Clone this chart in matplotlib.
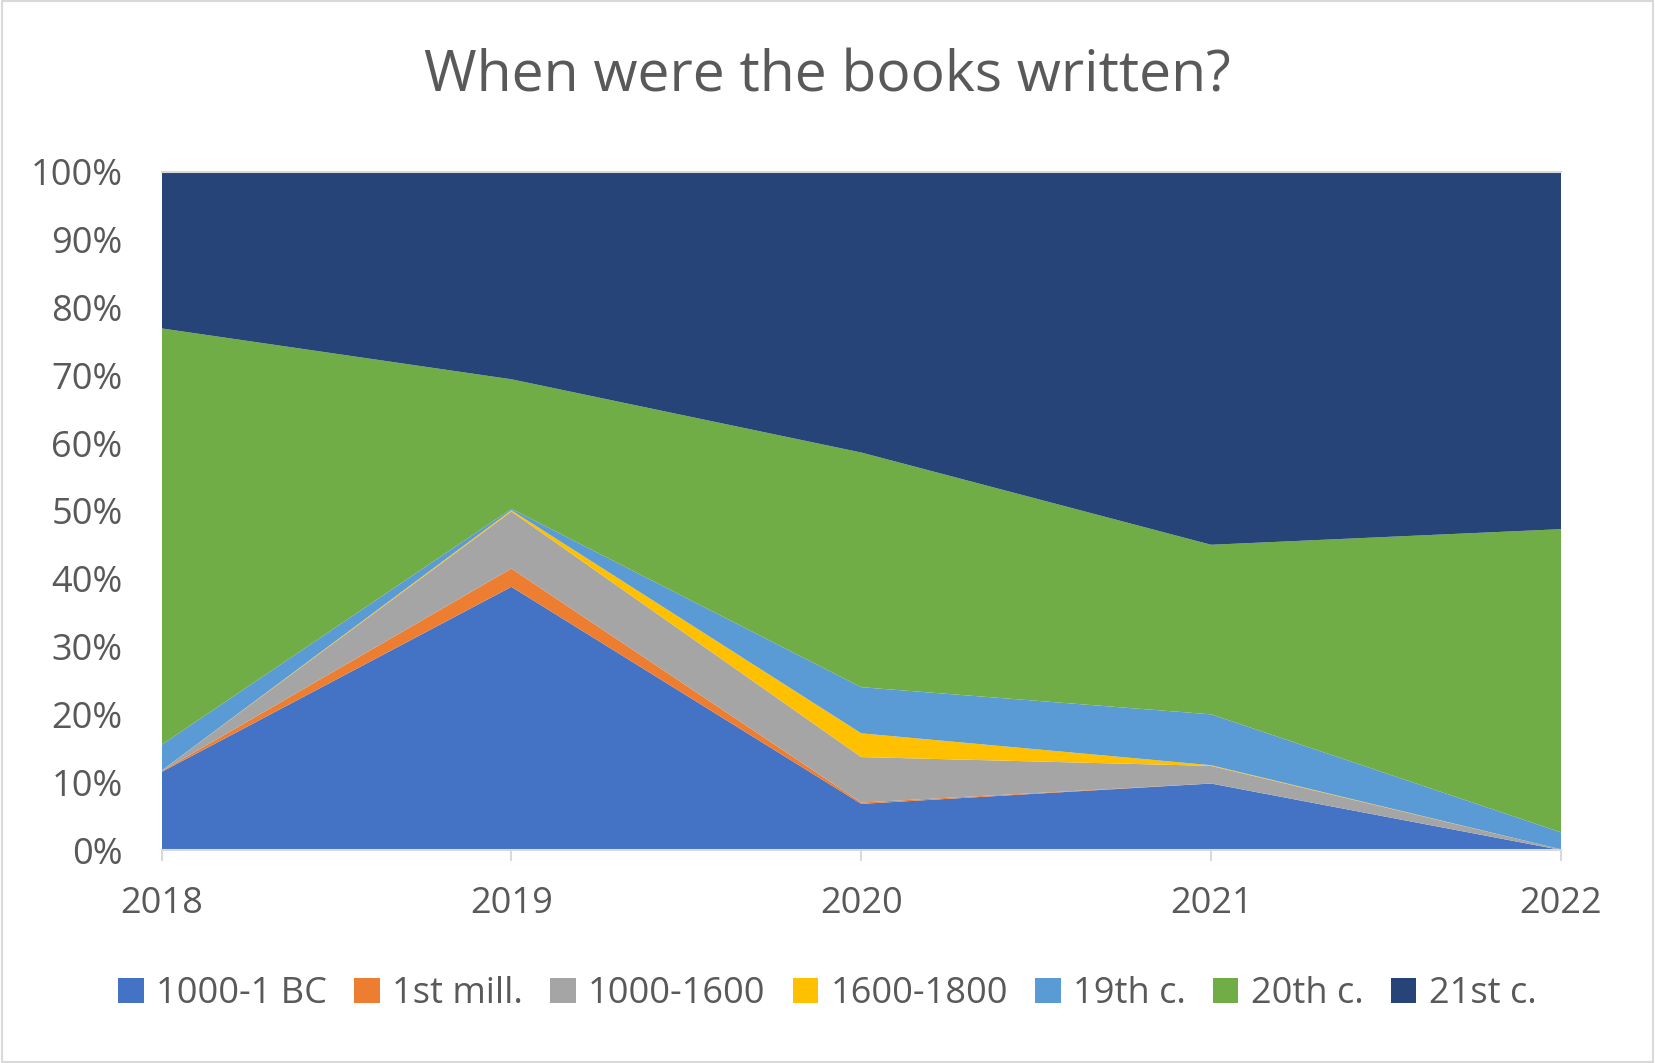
import matplotlib.pyplot as plt
from matplotlib.patches import Rectangle
from matplotlib.ticker import PercentFormatter

years = [2018, 2019, 2020, 2021, 2022]
labels = ["1000-1 BC", "1st mill.", "1000-1600", "1600-1800", "19th c.", "20th c.", "21st c."]

bc = [11.5, 38.8, 6.8, 9.8, 0.0]
first_mill = [0.1, 2.7, 0.2, 0.0, 0.0]
m1000_1600 = [0.1, 8.4, 6.7, 2.6, 0.1]
m1600_1800 = [0.0, 0.2, 3.5, 0.1, 0.0]
c19 = [3.8, 0.2, 6.8, 7.5, 2.5]
c20 = [61.4, 19.1, 34.6, 25.0, 44.7]
c21 = [23.1, 30.6, 41.4, 55.0, 52.7]

colors = ["#4472C4", "#ED7D31", "#A5A5A5", "#FFC000", "#5B9BD5", "#70AD47", "#264478"]
text_col = "#595959"

plt.rcParams['font.family'] = ['Open Sans', 'DejaVu Sans']

fig = plt.figure(figsize=(16.55, 10.63), dpi=100)
ax = fig.add_axes([161.5 / 1655, 1 - 850 / 1063, (1561 - 161.5) / 1655, (850 - 171.7) / 1063])

series = [bc, first_mill, m1000_1600, m1600_1800, c19, c20, c21]
ax.stackplot(years, *series, colors=colors, labels=labels, linewidth=0)

ax.set_xlim(2018, 2022)
ax.set_ylim(0, 100)
ax.set_yticks(range(0, 101, 10))
ax.yaxis.set_major_formatter(PercentFormatter(decimals=0))
ax.set_xticks(years)

for s in ["top", "right", "left"]:
    ax.spines[s].set_visible(False)
ax.spines["bottom"].set_color("#D9D9D9")
ax.spines["bottom"].set_linewidth(1.5)
ax.axhline(100, color="#D9D9D9", lw=1.5, clip_on=False)

ax.tick_params(axis="y", length=0, labelsize=26, labelcolor=text_col, pad=28)
ax.tick_params(axis="x", length=8, width=1.5, color="#D9D9D9", labelsize=26,
               labelcolor=text_col, pad=18)
for lbl in ax.get_yticklabels():
    lbl.set_horizontalalignment("right")

fig.suptitle("When were the books written?", fontsize=41, color=text_col, y=1 - 77 / 1063, va="center")

leg = ax.legend(loc="center", bbox_to_anchor=(0.5, 1 - 994 / 1063), bbox_transform=fig.transFigure,
                ncol=7, frameon=False, fontsize=26, handlelength=0.7, handleheight=0.7,
                handletextpad=0.35, columnspacing=0.75)
for t in leg.get_texts():
    t.set_color(text_col)

fig.patches.append(Rectangle((0.001, 0.001), 0.998, 0.998, transform=fig.transFigure,
                             fill=False, edgecolor="#D9D9D9", lw=1.5))

fig.savefig("out.png", dpi=100)
